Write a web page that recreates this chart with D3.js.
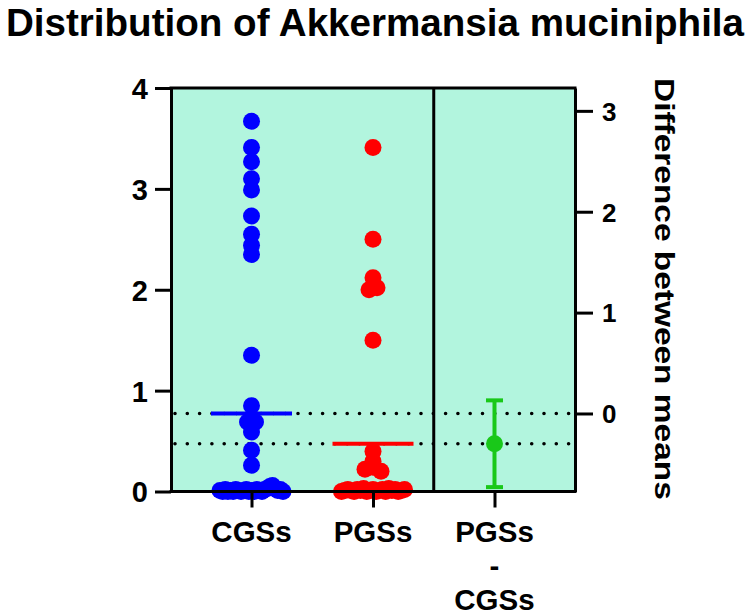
<!DOCTYPE html>
<html>
<head>
<meta charset="utf-8">
<script src="https://cdn.jsdelivr.net/npm/d3@7"></script>
<style>
  html, body { margin: 0; padding: 0; background: #ffffff; }
  svg { display: block; font-family: "Liberation Sans", Arial, sans-serif; }
</style>
</head>
<body>
<svg id="chart" width="750" height="615"></svg>
<script>
// ---------------- data ----------------
const title = "Distribution of Akkermansia muciniphila";
const categories = ["CGSs", "PGSs", "PGSs - CGSs"];
const categoryLabelLines = [["CGSs"], ["PGSs"], ["PGSs", "-", "CGSs"]];
const rightAxisTitle = "Difference between means";

const cgsValues = [3.67, 3.41, 3.27, 3.10, 2.99, 2.73, 2.55, 2.44, 2.35, 1.35,
  0.85, 0.69, 0.69, 0.59, 0.41, 0.26,
  0.01, 0.00, 0.02, 0.00, 0.01, 0.00, 0.02, 0.01, 0.00, 0.01, 0.02, 0.00, 0.01,
  0.00, 0.02, 0.01, 0.00, 0.02, 0.03, 0.05, 0.06, 0.03, 0.01, 0.02, 0.00];
const pgsValues = [3.41, 2.50, 2.12, 2.00, 2.02, 1.50, 0.40, 0.30, 0.22, 0.24, 0.20,
  0.00, 0.01, 0.02, 0.01, 0.00, 0.02, 0.01, 0.03, 0.00, 0.01, 0.02, 0.00, 0.01,
  0.02, 0.00, 0.03, 0.01, 0.02, 0.00, 0.01, 0.02];
const diffCI = [-0.73, 0.13];          // 95% CI of (PGSs - CGSs)
const leftTicks = [0, 1, 2, 3, 4];
const rightTicks = [0, 1, 2, 3];

// ---------------- layout ----------------
const W = 750, H = 615;
const plot = { left: 171, right: 575, top: 88, bottom: 491.5 };
const colors = { cgs: "#0000ff", pgs: "#ff0000", diff: "#19c819", bg: "#b2f5de" };
const R = 8.5;

const svg = d3.select("#chart");

const x = d3.scalePoint().domain(categories).range([plot.left, plot.right]).padding(0.6626);
const y = d3.scaleLinear().domain([0, 4]).range([plot.bottom, plot.top]);

const meanC = d3.mean(cgsValues);
const meanP = d3.mean(pgsValues);
const diff = meanP - meanC;
const y2 = d3.scaleLinear().domain([0 - meanC, 4 - meanC]).range([plot.bottom, plot.top]);

// background
svg.append("rect")
  .attr("x", plot.left).attr("y", plot.top)
  .attr("width", plot.right - plot.left).attr("height", plot.bottom - plot.top)
  .attr("fill", colors.bg);

// dotted reference lines at the two group means
[meanC, meanP].forEach(m => {
  svg.append("line")
    .attr("x1", plot.left + 4).attr("x2", plot.right)
    .attr("y1", y(m)).attr("y2", y(m))
    .attr("stroke", "#000").attr("stroke-width", 3.6)
    .attr("stroke-linecap", "round")
    .attr("stroke-dasharray", "0 12.3");
});

// divider between panels
const xDiv = (x(categories[1]) + x(categories[2])) / 2;
svg.append("line")
  .attr("x1", xDiv).attr("x2", xDiv)
  .attr("y1", plot.top).attr("y2", plot.bottom)
  .attr("stroke", "#000").attr("stroke-width", 3);

// scatter layout: group nearby values, spread horizontally
function scatterLayout(values, cx) {
  const idx = values.map((v, i) => i).sort((a, b) => values[a] - values[b] || a - b);
  const groups = [];
  let cur = null;
  idx.forEach(i => {
    if (!cur || Math.abs(y(values[i]) - y(values[cur[0]])) >= 8) {
      cur = [i]; groups.push(cur);
    } else cur.push(i);
  });
  const pts = [];
  const maxHalf = 31.5;
  groups.forEach(g => {
    g.sort((a, b) => a - b);
    const n = g.length;
    const step = n > 1 ? Math.min(8, (2 * maxHalf) / (n - 1)) : 0;
    g.forEach((i, k) => pts.push({ v: values[i], x: cx + (k - (n - 1) / 2) * step }));
  });
  return pts;
}

function drawGroup(values, cat, color, mean) {
  const cx = x(cat);
  const pts = scatterLayout(values, cx);
  svg.append("g").selectAll("circle").data(pts).join("circle")
    .attr("cx", d => d.x).attr("cy", d => y(d.v)).attr("r", R)
    .attr("fill", color);
  svg.append("line")
    .attr("x1", cx - 40.5).attr("x2", cx + 40.5)
    .attr("y1", y(mean)).attr("y2", y(mean))
    .attr("stroke", color).attr("stroke-width", 4);
}
drawGroup(cgsValues, categories[0], colors.cgs, meanC);
drawGroup(pgsValues, categories[1], colors.pgs, meanP);

// difference with CI
const xd = x(categories[2]);
const gd = svg.append("g");
gd.append("line").attr("x1", xd).attr("x2", xd)
  .attr("y1", y2(diffCI[0])).attr("y2", y2(diffCI[1]))
  .attr("stroke", colors.diff).attr("stroke-width", 4);
diffCI.forEach(c => {
  gd.append("line").attr("x1", xd - 8.5).attr("x2", xd + 8.5)
    .attr("y1", y2(c)).attr("y2", y2(c))
    .attr("stroke", colors.diff).attr("stroke-width", 4);
});
gd.append("circle").attr("cx", xd).attr("cy", y2(diff)).attr("r", 8.5).attr("fill", colors.diff);

// axes
function styleAxis(g) {
  g.selectAll("path, line").attr("stroke", "#000").attr("stroke-width", 3);
  g.selectAll("text").attr("fill", "#000").attr("font-weight", "bold")
    .attr("font-family", "'Liberation Sans', Arial, sans-serif");
}

const gl = svg.append("g").attr("transform", `translate(${plot.left},0)`)
  .call(d3.axisLeft(y).tickValues(leftTicks).tickFormat(d3.format("d"))
    .tickSize(16).tickSizeOuter(0).tickPadding(7));
styleAxis(gl);
gl.selectAll("text").attr("font-size", 29).attr("dy", "0.36em");

const gr = svg.append("g").attr("transform", `translate(${plot.right},0)`)
  .call(d3.axisRight(y2).tickValues(rightTicks).tickFormat(d3.format("d"))
    .tickSize(18).tickSizeOuter(0).tickPadding(9));
styleAxis(gr);
gr.selectAll("text").attr("font-size", 26).attr("dy", "0.36em");

const gb = svg.append("g").attr("transform", `translate(0,${plot.bottom})`)
  .call(d3.axisBottom(x).tickSize(16).tickSizeOuter(0).tickFormat(""));
styleAxis(gb);
gb.select("path.domain").attr("d", `M${plot.left - 1.5},0H${plot.right + 1.5}`);

// top border
svg.append("line")
  .attr("x1", plot.left - 1.5).attr("x2", plot.right + 1.5)
  .attr("y1", plot.top).attr("y2", plot.top)
  .attr("stroke", "#000").attr("stroke-width", 3);

// category labels
categories.forEach((c, i) => {
  const t = svg.append("text")
    .attr("x", x(c)).attr("y", 541.5)
    .attr("text-anchor", "middle")
    .attr("font-size", 29.5).attr("font-weight", "bold").attr("fill", "#000");
  categoryLabelLines[i].forEach((line, k) => {
    t.append("tspan").attr("x", x(c)).attr("y", 541.5 + k * 34.2).text(line);
  });
});

// right axis title (glyphs stretched along the reading direction, as in the reference)
const rt = svg.append("text")
  .attr("font-size", 28).attr("font-weight", "bold").attr("fill", "#000")
  .text(rightAxisTitle);
const rtLen = rt.node().getComputedTextLength();
rt.attr("transform", `translate(655,78) rotate(90) scale(${422 / rtLen},1)`);

// title
svg.append("text")
  .attr("x", W / 2).attr("y", 36)
  .attr("text-anchor", "middle")
  .attr("font-size", 38.6).attr("font-weight", "bold").attr("fill", "#000")
  .text(title);
</script>
</body>
</html>
